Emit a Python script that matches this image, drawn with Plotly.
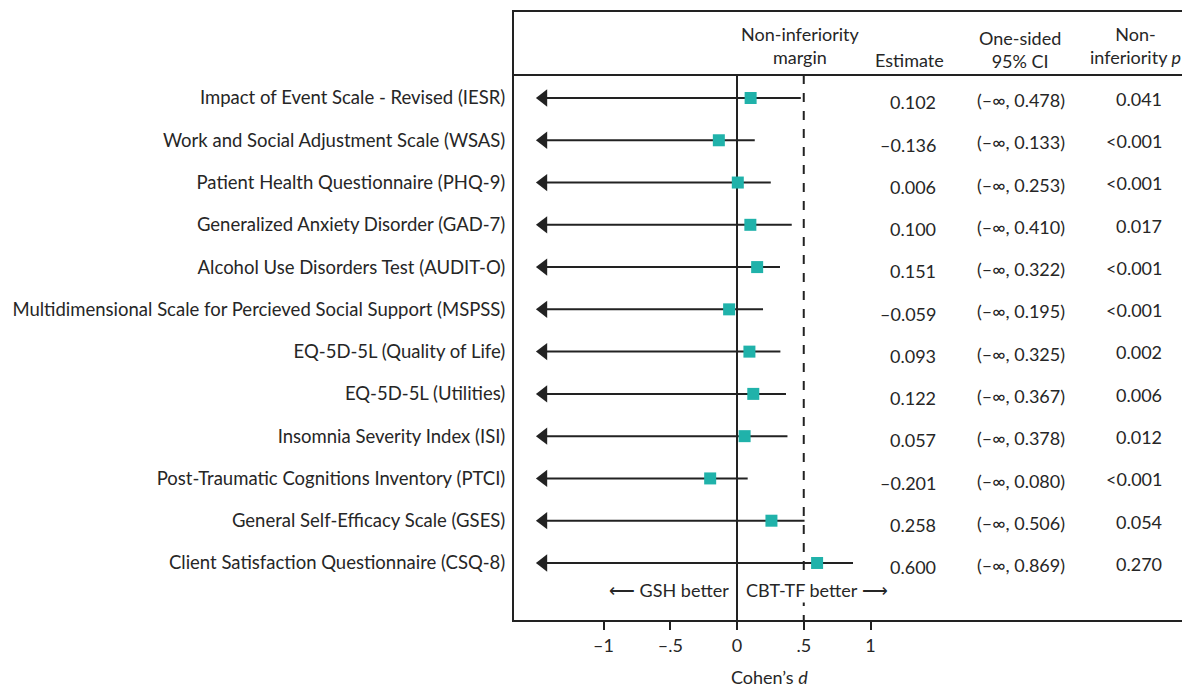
import plotly.graph_objects as go

outcomes = [
    "Impact of Event Scale - Revised (IESR)",
    "Work and Social Adjustment Scale (WSAS)",
    "Patient Health Questionnaire (PHQ-9)",
    "Generalized Anxiety Disorder (GAD-7)",
    "Alcohol Use Disorders Test (AUDIT-O)",
    "Multidimensional Scale for Percieved Social Support (MSPSS)",
    "EQ-5D-5L (Quality of Life)",
    "EQ-5D-5L (Utilities)",
    "Insomnia Severity Index (ISI)",
    "Post-Traumatic Cognitions Inventory (PTCI)",
    "General Self-Efficacy Scale (GSES)",
    "Client Satisfaction Questionnaire (CSQ-8)",
]
estimates = [0.102, -0.136, 0.006, 0.100, 0.151, -0.059, 0.093, 0.122, 0.057, -0.201, 0.258, 0.600]
ci_upper = [0.478, 0.133, 0.253, 0.410, 0.322, 0.195, 0.325, 0.367, 0.378, 0.080, 0.506, 0.869]
p_values = ["0.041", "<0.001", "<0.001", "0.017", "<0.001", "<0.001", "0.002", "0.006", "0.012", "<0.001", "0.054", "0.270"]
margin = 0.5
tick_vals = [-1, -0.5, 0, 0.5, 1]
tick_text = ["–1", "–.5", "0", ".5", "1"]

FONT = "Lato, 'Open Sans', sans-serif"
TXT = "#262626"
LINE = "#222222"
TEAL = "#20b2aa"
FS = 18
FS_LAB = 18.5

OFF = 8  # page body margin
W, H = 1190 - OFF, 689 - OFF

n = len(outcomes)
rows = list(range(n))
x_left_end = -1.5
x_range = [(514 - 737) / 133.5, (1190 - 737) / 133.5]
y_top = (12 - 98) / 42.27
y_bot = (620 - 98) / 42.27
y_header = (75 - 98) / 42.27

fig = go.Figure()

for i in rows:
    fig.add_trace(go.Scatter(x=[x_left_end + 0.03, ci_upper[i]], y=[i, i], mode="lines",
                             line=dict(color=LINE, width=2), hoverinfo="skip", showlegend=False))
fig.add_trace(go.Scatter(x=[x_left_end + 0.05] * n, y=rows, mode="markers",
                         marker=dict(symbol="triangle-left", size=15, color=LINE, line=dict(width=0)),
                         hoverinfo="skip", showlegend=False))
fig.add_trace(go.Scatter(x=estimates, y=rows, mode="markers",
                         marker=dict(symbol="square", size=12, color=TEAL, line=dict(width=0)),
                         showlegend=False))

fig.add_shape(type="line", x0=0, x1=0, y0=y_header, y1=y_bot, xref="x", yref="y",
              line=dict(color=LINE, width=2), layer="below")
fig.add_shape(type="line", x0=margin, x1=margin, y0=y_header, y1=y_bot, xref="x", yref="y",
              line=dict(color=LINE, width=2, dash="dash"), layer="below")
fig.add_shape(type="line", x0=0, x1=1, y0=y_header, y1=y_header, xref="paper", yref="y",
              line=dict(color=LINE, width=2))


def px2x(px):
    return (px - 737) / 133.5


def py2y(py):
    return (py - 98) / 42.27


ann = []
ann.append(dict(x=px2x(800), y=py2y(45), text="Non-inferiority<br>margin", xanchor="center"))
ann.append(dict(x=px2x(909), y=py2y(60), text="Estimate", xanchor="center"))
ann.append(dict(x=px2x(1020), y=py2y(49), text="One-sided<br>95% CI", xanchor="center"))
ann.append(dict(x=px2x(1135), y=py2y(45), text="Non-<br>inferiority <i>p</i>", xanchor="center"))

for i in rows:
    est = f"{estimates[i]:.3f}".replace("-", "–")
    ci = f"(–∞, {ci_upper[i]:.3f})"
    ann.append(dict(x=px2x(938), y=i + 0.1, text=est, xanchor="right"))
    ann.append(dict(x=px2x(975), y=i + 0.05, text=ci, xanchor="left"))
    ann.append(dict(x=px2x(1164), y=i + 0.02, text=p_values[i], xanchor="right"))

ann.append(dict(x=px2x(731), y=py2y(590), text="⟵ GSH better", xanchor="right"))
ann.append(dict(x=px2x(744), y=py2y(590), text="CBT-TF better ⟶", xanchor="left", bgcolor="white"))

for a in ann:
    a.update(xref="x", yref="y", yanchor="middle", showarrow=False,
             font=dict(family=FONT, size=FS, color=TXT))
    fig.add_annotation(**a)

fig.add_annotation(x=px2x(769), y=-57 / 608, xref="x", yref="paper", text="Cohen’s <i>d</i>",
                   showarrow=False, xanchor="center", yanchor="middle",
                   font=dict(family=FONT, size=FS, color=TXT))

fig.update_layout(
    width=W, height=H,
    margin=dict(l=514 - OFF, r=0, t=12 - OFF, b=H - (620 - OFF)),
    plot_bgcolor="white", paper_bgcolor="white",
    font=dict(family=FONT, size=FS, color=TXT),
    xaxis=dict(range=x_range, tickvals=tick_vals, ticktext=tick_text, showgrid=False, zeroline=False,
               showline=True, linecolor=LINE, linewidth=2, mirror=True,
               ticks="outside", ticklen=8, tickwidth=2, tickcolor=LINE,
               tickfont=dict(family=FONT, size=FS, color=TXT)),
    yaxis=dict(range=[y_bot, y_top], tickvals=rows, ticktext=outcomes, showgrid=False, zeroline=False,
               showline=True, linecolor=LINE, linewidth=2, ticks="", ticklabelstandoff=3,
               tickfont=dict(family=FONT, size=FS_LAB, color=TXT)),
)

fig.write_html("out.html")
